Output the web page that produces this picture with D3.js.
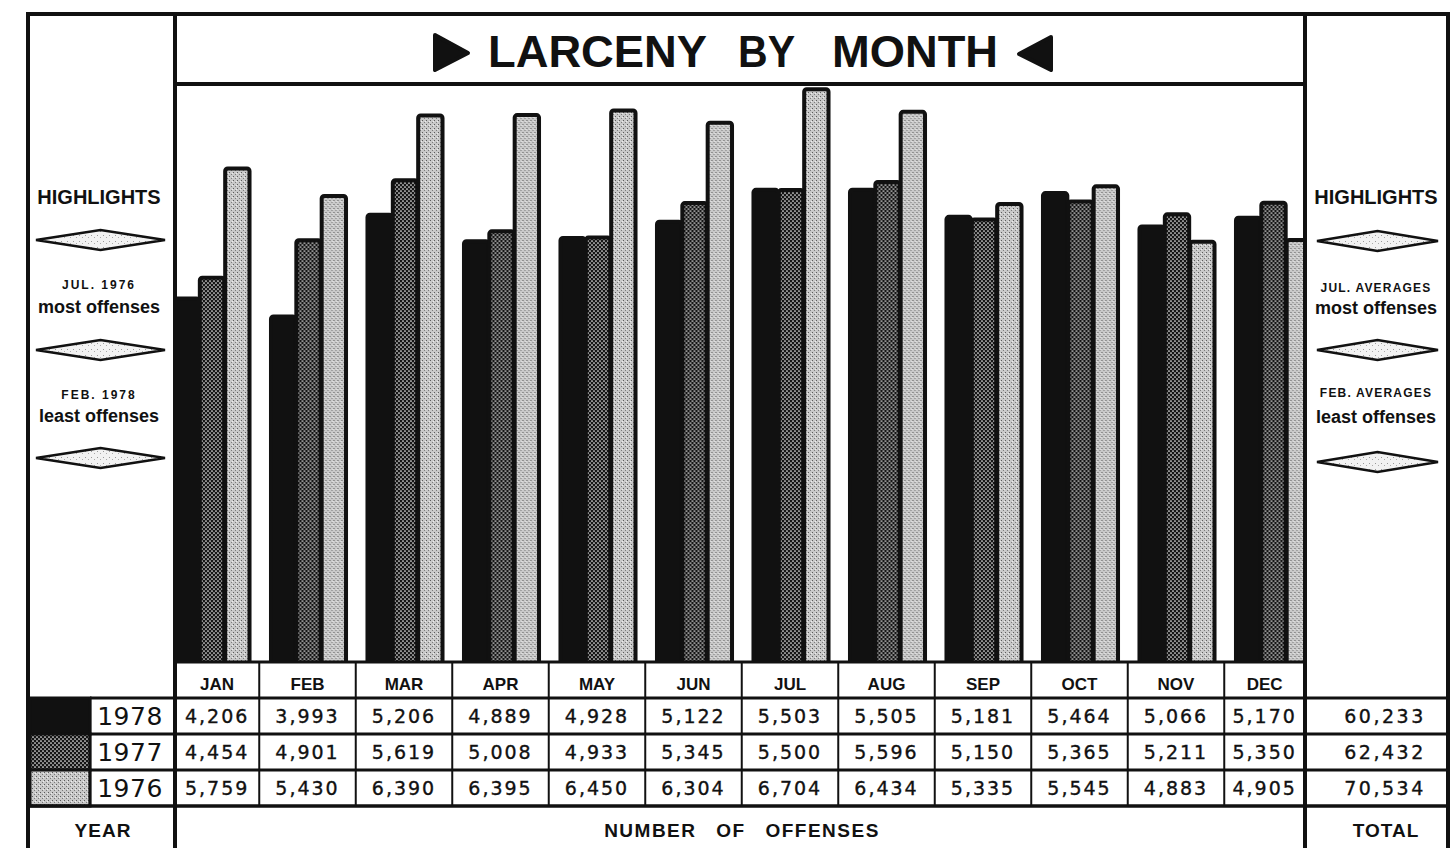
<!DOCTYPE html>
<html>
<head>
<meta charset="utf-8">
<script src="https://cdn.jsdelivr.net/npm/d3@7"></script>
<style>
body { margin: 0; background: #fff; }
svg { display: block; }
</style>
</head>
<body>
<script>
// data
var months = ["JAN","FEB","MAR","APR","MAY","JUN","JUL","AUG","SEP","OCT","NOV","DEC"];
var years = ["1978","1977","1976"];
var offenses1978 = [4206, 3993, 5206, 4889, 4928, 5122, 5503, 5505, 5181, 5464, 5066, 5170];
var offenses1977 = [4454, 4901, 5619, 5008, 4933, 5345, 5500, 5596, 5150, 5365, 5211, 5350];
var offenses1976 = [5759, 5430, 6390, 6395, 6450, 6304, 6704, 6434, 5335, 5545, 4883, 4905];
var totals = [60233, 62432, 70534];
var titleWords = ["LARCENY", "BY", "MONTH"];
var leftNotes = [["JUL. 1976", "most offenses"], ["FEB. 1978", "least offenses"]];
var rightNotes = [["JUL. AVERAGES", "most offenses"], ["FEB. AVERAGES", "least offenses"]];

var series = [offenses1978, offenses1977, offenses1976];
var ink = "#111";
var W = 1452, H = 848;
var plotLeft = 175, plotRight = 1305, plotTop = 84, tableTop = 662;
var rowY = [698, 734, 770, 806];

var svg = d3.select("body").append("svg")
    .attr("width", W)
    .attr("height", H);

var defs = svg.append("defs");

// halftone looking fills
var p77 = defs.append("pattern").attr("id", "p1977")
    .attr("width", 4).attr("height", 4).attr("patternUnits", "userSpaceOnUse");
p77.append("rect").attr("width", 4).attr("height", 4).attr("fill", "#151515");
p77.append("circle").attr("cx", 1).attr("cy", 1).attr("r", 0.85).attr("fill", "#f4f4f4");
p77.append("circle").attr("cx", 3).attr("cy", 3).attr("r", 0.85).attr("fill", "#f4f4f4");

var p76 = defs.append("pattern").attr("id", "p1976")
    .attr("width", 4).attr("height", 4).attr("patternUnits", "userSpaceOnUse");
p76.append("rect").attr("width", 4).attr("height", 4).attr("fill", "#c9c9c9");
p76.append("rect").attr("x", 0).attr("y", 0).attr("width", 1).attr("height", 1).attr("fill", "#5a5a5a");
p76.append("rect").attr("x", 2).attr("y", 2).attr("width", 1).attr("height", 1).attr("fill", "#7a7a7a");
p76.append("rect").attr("x", 3).attr("y", 1).attr("width", 1).attr("height", 1).attr("fill", "#eee");

var pd = defs.append("pattern").attr("id", "pdiam")
    .attr("width", 6).attr("height", 6).attr("patternUnits", "userSpaceOnUse");
pd.append("rect").attr("width", 6).attr("height", 6).attr("fill", "#f2f2f2");
pd.append("rect").attr("x", 1).attr("y", 1).attr("width", 1).attr("height", 1).attr("fill", "#999");
pd.append("rect").attr("x", 4).attr("y", 3).attr("width", 1).attr("height", 1).attr("fill", "#aaa");

var fills = {"1978": ink, "1977": "url(#p1977)", "1976": "url(#p1976)"};

defs.append("clipPath").attr("id", "plotclip")
  .append("rect")
    .attr("x", plotLeft + 2)
    .attr("y", plotTop + 2)
    .attr("width", plotRight - plotLeft - 4)
    .attr("height", tableTop - plotTop - 2);

// scales
var x0 = d3.scaleBand()
    .domain(months)
    .range([162.75, 1320.75])
    .paddingInner(0.212)
    .paddingOuter(0.106);

var x1 = d3.scaleBand()
    .domain(years)
    .range([0, x0.bandwidth()]);

var y = d3.scaleLinear()
    .domain([0, 7000])
    .range([651, 64.4]);

// bars
var groups = svg.append("g")
    .attr("clip-path", "url(#plotclip)")
  .selectAll("g.month")
    .data(months.map(function(m, i) {
        return {month: m, values: years.map(function(yr, j) {
            return {year: yr, value: series[j][i]};
        })};
    }))
    .enter().append("g")
    .attr("class", "month")
    .attr("transform", function(d) { return "translate(" + x0(d.month) + ",0)"; });

groups.selectAll("rect")
    .data(function(d) { return d.values; })
    .enter().append("rect")
    .attr("x", function(d) { return x1(d.year) + 1.5; })
    .attr("width", x1.bandwidth() - 1)
    .attr("y", function(d) { return y(d.value); })
    .attr("height", function(d) { return tableTop + 4 - y(d.value); })
    .attr("rx", 2.5)
    .attr("fill", function(d) { return fills[d.year]; })
    .attr("stroke", ink)
    .attr("stroke-width", 4);

// table background
svg.append("rect")
    .attr("x", plotLeft).attr("y", tableTop)
    .attr("width", plotRight - plotLeft).attr("height", rowY[3] - tableTop)
    .attr("fill", "#fff");

// cell edges for the month columns
var edges = [plotLeft];
months.slice(0, -1).forEach(function(m) {
    edges.push(x0(m) + x0.bandwidth() + (x0.step() - x0.bandwidth()) / 2);
});
edges.push(plotRight);
var centers = months.map(function(m, i) { return (edges[i] + edges[i + 1]) / 2; });

// legend swatches
var legend = svg.append("g");
years.forEach(function(yr, j) {
    legend.append("rect")
        .attr("x", 30).attr("y", rowY[j])
        .attr("width", 60).attr("height", rowY[j + 1] - rowY[j])
        .attr("fill", fills[yr])
        .attr("stroke", ink).attr("stroke-width", 3);
    legend.append("text")
        .attr("x", 130).attr("y", rowY[j] + 27)
        .attr("text-anchor", "middle")
        .attr("font-family", "DejaVu Sans, sans-serif")
        .attr("font-size", 25)
        .attr("letter-spacing", 0.5)
        .attr("fill", ink)
        .text(yr);
});

// grid lines
var lines = svg.append("g").attr("stroke", ink).attr("fill", "none");
lines.append("rect")
    .attr("x", 28).attr("y", 14).attr("width", 1420).attr("height", 900)
    .attr("stroke-width", 4);
lines.append("line").attr("x1", plotLeft).attr("x2", plotLeft).attr("y1", 14).attr("y2", H + 10).attr("stroke-width", 4);
lines.append("line").attr("x1", plotRight).attr("x2", plotRight).attr("y1", 14).attr("y2", H + 10).attr("stroke-width", 4);
lines.append("line").attr("x1", plotLeft).attr("x2", plotRight).attr("y1", plotTop).attr("y2", plotTop).attr("stroke-width", 4);
lines.append("line").attr("x1", plotLeft).attr("x2", plotRight).attr("y1", tableTop).attr("y2", tableTop).attr("stroke-width", 3);
rowY.forEach(function(ry, i) {
    lines.append("line")
        .attr("x1", i === 3 ? 28 : 90).attr("x2", 1448)
        .attr("y1", ry).attr("y2", ry)
        .attr("stroke-width", i === 3 ? 3.5 : 3);
});
lines.append("line").attr("x1", 90).attr("x2", 90).attr("y1", rowY[0]).attr("y2", rowY[3]).attr("stroke-width", 2.5);
edges.slice(1, -1).forEach(function(ex) {
    lines.append("line")
        .attr("x1", ex).attr("x2", ex)
        .attr("y1", tableTop).attr("y2", rowY[3])
        .attr("stroke-width", 2);
});

// month labels
svg.append("g").selectAll("text")
    .data(months)
    .enter().append("text")
    .attr("x", function(d, i) { return centers[i]; })
    .attr("y", 690)
    .attr("text-anchor", "middle")
    .attr("font-family", "Liberation Sans, Arial, sans-serif")
    .attr("font-weight", "bold")
    .attr("font-size", 17)
    .attr("fill", ink)
    .text(function(d) { return d; });

// numbers
var fmt = d3.format(",");
series.forEach(function(vals, j) {
    svg.append("g").selectAll("text")
        .data(vals)
        .enter().append("text")
        .attr("x", function(d, i) { return centers[i]; })
        .attr("y", rowY[j] + 25)
        .attr("text-anchor", "middle")
        .attr("font-family", "DejaVu Sans, sans-serif")
        .attr("font-size", 19)
        .attr("letter-spacing", 2)
        .attr("fill", ink)
        .attr("stroke", ink)
        .attr("stroke-width", 0.35)
        .text(function(d) { return fmt(d); });
});

svg.append("g").selectAll("text")
    .data(totals)
    .enter().append("text")
    .attr("x", 1385)
    .attr("y", function(d, j) { return rowY[j] + 25; })
    .attr("text-anchor", "middle")
    .attr("font-family", "DejaVu Sans, sans-serif")
    .attr("font-size", 19)
    .attr("letter-spacing", 2.5)
    .attr("fill", ink)
    .attr("stroke", ink)
    .attr("stroke-width", 0.35)
    .text(function(d) { return fmt(d); });

// bottom captions
function caption(x, txt, ls, ws) {
    svg.append("text")
        .attr("x", x).attr("y", 837)
        .attr("text-anchor", "middle")
        .attr("font-family", "Liberation Sans, Arial, sans-serif")
        .attr("font-weight", "bold")
        .attr("font-size", 19)
        .attr("letter-spacing", ls)
        .attr("word-spacing", ws)
        .attr("fill", ink)
        .text(txt);
}
caption(103, "YEAR", 1, 0);
caption(742, "NUMBER OF OFFENSES", 1.5, 13);
caption(1386, "TOTAL", 1, 0);

// title
var titleX = [488, 738, 832];
var titleLen = [219, 57, 166];
svg.append("g").selectAll("text")
    .data(titleWords)
    .enter().append("text")
    .attr("x", function(d, i) { return titleX[i]; })
    .attr("y", 67)
    .attr("font-family", "Liberation Sans, Arial, sans-serif")
    .attr("font-weight", "bold")
    .attr("font-size", 45)
    .attr("textLength", function(d, i) { return titleLen[i]; })
    .attr("lengthAdjust", "spacingAndGlyphs")
    .attr("fill", ink)
    .text(function(d) { return d; });

svg.append("path")
    .attr("d", "M435,35 L468,53 L435,70 Z")
    .attr("fill", ink).attr("stroke", ink).attr("stroke-width", 4).attr("stroke-linejoin", "round");
svg.append("path")
    .attr("d", "M1051,37 L1019,54 L1051,70 Z")
    .attr("fill", ink).attr("stroke", ink).attr("stroke-width", 4).attr("stroke-linejoin", "round");

// highlights panels
function panel(cx, x0p, x1p, notes, small, diamonds, noteY) {
    var g = svg.append("g");
    g.append("text")
        .attr("x", cx).attr("y", 204)
        .attr("text-anchor", "middle")
        .attr("font-family", "Liberation Sans, Arial, sans-serif")
        .attr("font-weight", "bold")
        .attr("font-size", 20)
        .attr("fill", ink)
        .text("HIGHLIGHTS");
    diamonds.forEach(function(dy) {
        var mx = (x0p + x1p) / 2;
        g.append("path")
            .attr("d", "M" + x0p + "," + dy + " L" + mx + "," + (dy - 10) + " L" + x1p + "," + dy + " L" + mx + "," + (dy + 10) + " Z")
            .attr("fill", "url(#pdiam)")
            .attr("stroke", ink)
            .attr("stroke-width", 2.5)
            .attr("stroke-linejoin", "miter");
    });
    notes.forEach(function(n, i) {
        g.append("text")
            .attr("x", cx).attr("y", noteY[i][0])
            .attr("text-anchor", "middle")
            .attr("font-family", "Liberation Sans, Arial, sans-serif")
            .attr("font-weight", "bold")
            .attr("font-size", 12)
            .attr("letter-spacing", small)
            .attr("fill", ink)
            .text(n[0]);
        g.append("text")
            .attr("x", cx).attr("y", noteY[i][1])
            .attr("text-anchor", "middle")
            .attr("font-family", "Liberation Sans, Arial, sans-serif")
            .attr("font-weight", "bold")
            .attr("font-size", 18)
            .attr("fill", ink)
            .text(n[1]);
    });
}
panel(99, 36, 165, leftNotes, 2, [240, 350, 458], [[289, 313], [399, 422]]);
panel(1376, 1317, 1438, rightNotes, 1.2, [241, 350, 462], [[292, 314], [397, 423]]);
</script>
</body>
</html>
